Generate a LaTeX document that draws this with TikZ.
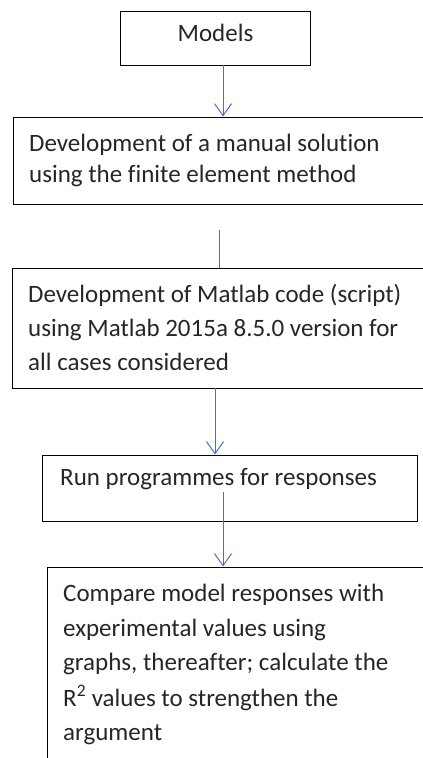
\documentclass[tikz,border=0pt]{standalone}
\usepackage{fontspec}
\setmainfont[Ligatures=NoCommon]{Carlito}
\usetikzlibrary{arrows.meta}
\definecolor{arrblue}{HTML}{4472C4}
\definecolor{txtgray}{HTML}{262626}
\begin{document}
\begin{tikzpicture}[x=1pt,y=-1pt,
  box/.style={draw=black, line width=1pt, inner sep=0pt, rectangle},
  txt/.style={anchor=base west, inner sep=0pt, text=txtgray, font=\fontsize{25}{34}\selectfont},
  link/.style={draw=arrblue, line width=1pt},
  arr/.style={link, -{Straight Barb[length=12pt,width=17pt,line width=1pt]}}]
\useasboundingbox (0,0) rectangle (423,758);
% boxes
\node[box, minimum width=190pt, minimum height=54pt] (b1) at (215,38) {};
\node[box, minimum width=427pt, minimum height=87pt] (b2) at (226.5,160.5) {};
\node[box, minimum width=428pt, minimum height=120pt] (b3) at (226,328) {};
\node[box, minimum width=375pt, minimum height=66pt] (b4) at (229.5,488) {};
\node[box, minimum width=393pt, minimum height=213pt] (b5) at (243.5,673.5) {};
% texts
\node[txt, anchor=base] (t1) at (215.5,41.7) {Models};
\node[txt] (t2a) at (29,151.5) {Development of a manual solution};
\node[txt] (t2b) at (29,182) {using the finite element method};
\node[txt] (t3a) at (28,302) {Development of Matlab code (script)};
\node[txt] (t3b) at (28,336) {using Matlab 2015a 8.5.0 version for};
\node[txt] (t3c) at (28,370) {all cases considered};
\node[txt] (t4) at (60,485) {Run programmes for responses};
\node[txt] (t5a) at (63,601.7) {Compare model responses with};
\node[txt] (t5b) at (63,636) {experimental values using};
\node[txt] (t5c) at (63,670.5) {graphs, thereafter; calculate the};
\node[txt] (t5d) at (63,706) {R\textsuperscript{2} values to strengthen the};
\node[txt] (t5e) at (63,740) {argument};
% connectors
\coordinate (s1) at (223,65);
\coordinate (c2) at (219,230);
\coordinate (s3) at (215,388);
\coordinate (c4) at (223,492);
\draw[arr] (s1) -- (s1 |- b2.north);
\draw[link] (c2) -- (c2 |- b3.north);
\draw[arr] (s3) -- (s3 |- b4.north);
\draw[arr] (c4) -- (c4 |- b5.north);
\end{tikzpicture}
\end{document}
